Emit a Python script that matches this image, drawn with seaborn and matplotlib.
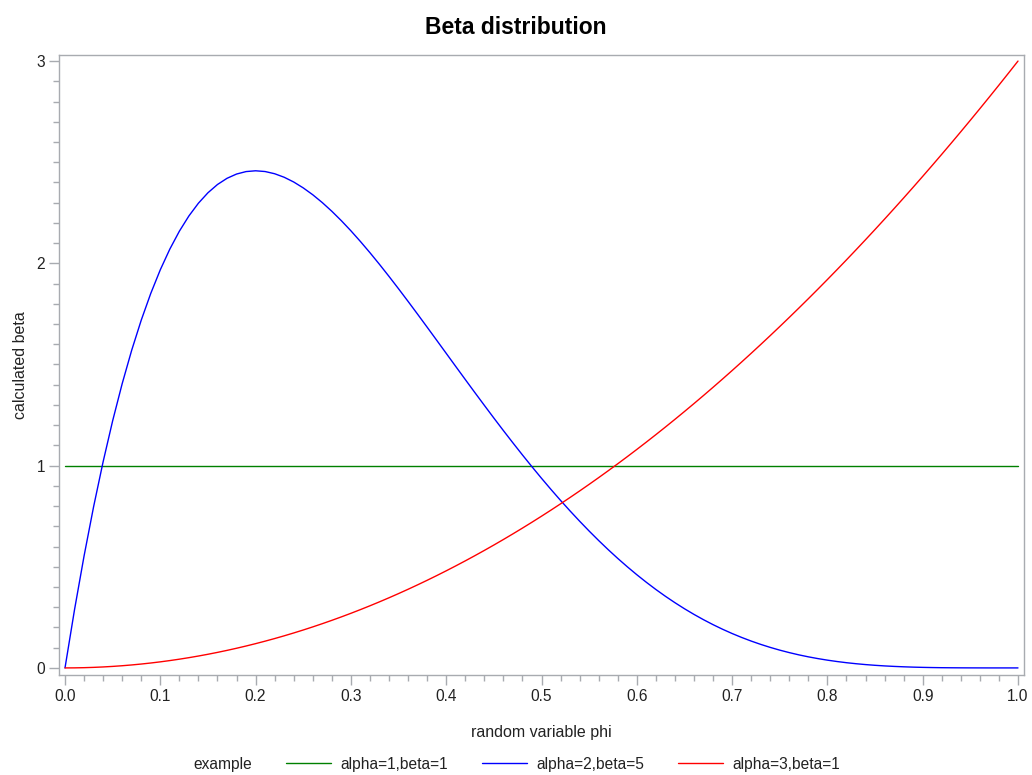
import numpy as np
import pandas as pd
import matplotlib
matplotlib.use("Agg")
import matplotlib.pyplot as plt
from matplotlib.ticker import MultipleLocator, FixedLocator
from matplotlib.lines import Line2D
import seaborn as sns

# ---- data ----
phi = np.round(np.linspace(0.0, 1.0, 101), 2)

series_names = ["alpha=1,beta=1", "alpha=2,beta=5", "alpha=3,beta=1"]
series_colors = ["#008000", "#0000ff", "#ff0000"]

phi_uniform = [0.0, 1.0]
beta_uniform = [1.0, 1.0]

beta_a2b5 = [
    0.0000, 0.2882, 0.5534, 0.7968, 1.0192, 1.2218, 1.4053, 1.5709, 1.7193, 1.8515,
    1.9683, 2.0705, 2.1589, 2.2343, 2.2974, 2.3490, 2.3898, 2.4204, 2.4415, 2.4537,
    2.4576, 2.4539, 2.4430, 2.4256, 2.4021, 2.3730, 2.3390, 2.3003, 2.2574, 2.2108,
    2.1609, 2.1080, 2.0526, 1.9950, 1.9354, 1.8743, 1.8119, 1.7486, 1.6845, 1.6200,
    1.5552, 1.4904, 1.4259, 1.3617, 1.2982, 1.2353, 1.1734, 1.1126, 1.0529, 0.9945,
    0.9375, 0.8820, 0.8281, 0.7759, 0.7254, 0.6766, 0.6297, 0.5846, 0.5414, 0.5002,
    0.4608, 0.4234, 0.3878, 0.3542, 0.3225, 0.2926, 0.2646, 0.2384, 0.2139, 0.1912,
    0.1701, 0.1507, 0.1328, 0.1164, 0.1015, 0.0879, 0.0757, 0.0646, 0.0548, 0.0461,
    0.0384, 0.0317, 0.0258, 0.0208, 0.0165, 0.0129, 0.0099, 0.0075, 0.0055, 0.0039,
    0.0027, 0.0018, 0.0011, 0.0007, 0.0004, 0.0002, 0.0001, 0.0000, 0.0000, 0.0000,
    0.0000,
]

beta_a3b1 = [
    0.0000, 0.0003, 0.0012, 0.0027, 0.0048, 0.0075, 0.0108, 0.0147, 0.0192, 0.0243,
    0.0300, 0.0363, 0.0432, 0.0507, 0.0588, 0.0675, 0.0768, 0.0867, 0.0972, 0.1083,
    0.1200, 0.1323, 0.1452, 0.1587, 0.1728, 0.1875, 0.2028, 0.2187, 0.2352, 0.2523,
    0.2700, 0.2883, 0.3072, 0.3267, 0.3468, 0.3675, 0.3888, 0.4107, 0.4332, 0.4563,
    0.4800, 0.5043, 0.5292, 0.5547, 0.5808, 0.6075, 0.6348, 0.6627, 0.6912, 0.7203,
    0.7500, 0.7803, 0.8112, 0.8427, 0.8748, 0.9075, 0.9408, 0.9747, 1.0092, 1.0443,
    1.0800, 1.1163, 1.1532, 1.1907, 1.2288, 1.2675, 1.3068, 1.3467, 1.3872, 1.4283,
    1.4700, 1.5123, 1.5552, 1.5987, 1.6428, 1.6875, 1.7328, 1.7787, 1.8252, 1.8723,
    1.9200, 1.9683, 2.0172, 2.0667, 2.1168, 2.1675, 2.2188, 2.2707, 2.3232, 2.3763,
    2.4300, 2.4843, 2.5392, 2.5947, 2.6508, 2.7075, 2.7648, 2.8227, 2.8812, 2.9403,
    3.0000,
]

x_ticks = [0.0, 0.1, 0.2, 0.3, 0.4, 0.5, 0.6, 0.7, 0.8, 0.9, 1.0]
x_ticklabels = ["0.0", "0.1", "0.2", "0.3", "0.4", "0.5", "0.6", "0.7", "0.8", "0.9", "1.0"]
y_ticks = [0, 1, 2, 3]
y_ticklabels = ["0", "1", "2", "3"]

df = pd.concat([
    pd.DataFrame({"phi": phi_uniform, "beta": beta_uniform, "example": series_names[0]}),
    pd.DataFrame({"phi": phi, "beta": beta_a2b5, "example": series_names[1]}),
    pd.DataFrame({"phi": phi, "beta": beta_a3b1, "example": series_names[2]}),
], ignore_index=True)

# ---- style ----
sns.set_style("white")
plt.rcParams["font.family"] = ["Liberation Sans", "DejaVu Sans"]

fig = plt.figure(figsize=(10.32, 7.75), dpi=100)
ax = fig.add_axes([59 / 1032, 1 - 675 / 775, (1024 - 59) / 1032, (675 - 55) / 775])

sns.lineplot(data=df, x="phi", y="beta", hue="example", hue_order=series_names,
             palette=series_colors, estimator=None, sort=False, linewidth=1.0,
             legend=False, ax=ax)

ax.set_xlim(-0.0063, 1.0063)
ax.set_ylim(-0.035, 3.03)

grey = "#a8abb0"
txt = "#222222"
for s in ax.spines.values():
    s.set_color(grey)
    s.set_linewidth(1.0)

ax.xaxis.set_major_locator(FixedLocator(x_ticks))
ax.set_xticklabels(x_ticklabels)
ax.xaxis.set_minor_locator(MultipleLocator(0.02))
ax.yaxis.set_major_locator(FixedLocator(y_ticks))
ax.set_yticklabels(y_ticklabels)
ax.yaxis.set_minor_locator(MultipleLocator(0.1))

ax.tick_params(axis="both", which="major", direction="out", length=7, width=1,
               color=grey, labelsize=11.2, labelcolor=txt, pad=3)
ax.tick_params(axis="both", which="minor", direction="out", length=4, width=1,
               color=grey)
ax.tick_params(axis="x", which="both", bottom=True)
ax.tick_params(axis="y", which="both", left=True)

ax.set_xlabel("random variable phi", fontsize=11.5, color=txt, labelpad=15)
ax.set_ylabel("calculated beta", fontsize=11.5, color=txt, labelpad=6)

fig.text(0.5, 1 - 27 / 775, "Beta distribution", ha="center", va="center",
         fontsize=16.5, fontweight="bold", color="black")

# legend
handles = [Line2D([0], [0], color=c, lw=1.0) for c in series_colors]
fig.text(252 / 1032, 1 - 765 / 775, "example", ha="right", va="center",
         fontsize=11.2, color=txt)
fig.legend(handles, series_names, loc="center left",
           bbox_to_anchor=(286 / 1032, 1 - 764 / 775), ncol=3, frameon=False,
           fontsize=11.2, handlelength=2.9, handletextpad=0.58, columnspacing=2.2,
           borderaxespad=0, borderpad=0, labelcolor=txt)

fig.savefig("out.png", dpi=100)
